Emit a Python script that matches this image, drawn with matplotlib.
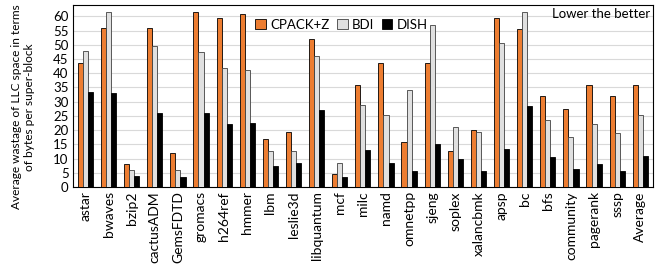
import numpy as np
import matplotlib.pyplot as plt

plt.rcParams['font.family'] = ['Lato', 'DejaVu Sans']

benchmarks = ["astar", "bwaves", "bzip2", "cactusADM", "GemsFDTD", "gromacs", "h264ref",
              "hmmer", "lbm", "leslie3d", "libquantum", "mcf", "milc", "namd", "omnetpp",
              "sjeng", "soplex", "xalancbmk", "apsp", "bc", "bfs", "community", "pagerank",
              "sssp", "Average"]
cpack_z = [43.5, 56, 8, 56, 12, 61.5, 59.5, 61, 17, 19.5, 52, 4.5, 36, 43.5, 16,
           43.5, 12.5, 20, 59.5, 55.5, 32, 27.5, 36, 32, 36]
bdi = [48, 61.5, 6, 49.5, 6, 47.5, 41.8, 41, 12.5, 12.5, 46, 8.5, 29, 25.5, 34,
       57, 21, 19.5, 50.5, 61.5, 23.5, 17.5, 22, 19, 25.5]
dish = [33.5, 33, 4, 26, 3.5, 26, 22, 22.5, 7.5, 8.5, 27, 3.5, 13, 8.5, 5.5,
        15, 10, 5.5, 13.5, 28.5, 10.5, 6.5, 8, 5.5, 11]

fig = plt.figure(figsize=(6.55, 2.66), dpi=100)
ax = fig.add_axes([0.111, 0.297, 0.886, 0.684])

x = np.arange(len(benchmarks))
w = 0.22
ax.bar(x - w, cpack_z, w, color="#ED7D31", edgecolor="black", linewidth=0.6, label="CPACK+Z", zorder=3)
ax.bar(x, bdi, w, color="#E0E0E0", edgecolor="#404040", linewidth=0.6, label="BDI", zorder=3)
ax.bar(x + w, dish, w, color="black", edgecolor="black", linewidth=0.6, label="DISH", zorder=3)

ax.set_xlim(-0.55, len(benchmarks) - 0.45)
ax.set_ylim(0, 64)
ax.set_yticks(np.arange(0, 61, 5))
ax.yaxis.grid(True, color="#d9d9d9", linewidth=0.8, zorder=0)
ax.set_xticks(x)
ax.set_xticklabels(benchmarks, rotation=90, fontsize=10)
ax.tick_params(axis="y", labelsize=9.5, length=0, pad=3)
ax.tick_params(axis="x", length=0, pad=3)
for s in ax.spines.values():
    s.set_linewidth(0.8)

# two-line label, shrunk a little so it stays inside the figure
ax.set_ylabel("Average wastage of LLC space in terms\nof bytes per super-block", fontsize=8.6)
ax.yaxis.set_label_coords(-0.065, 0.44)

ax.legend(loc="upper center", bbox_to_anchor=(0.463, 0.99), ncol=3, frameon=False, fontsize=9.5,
          handlelength=0.8, handleheight=0.8, handletextpad=0.3, columnspacing=0.6)
ax.text(0.995, 0.985, "Lower the better", transform=ax.transAxes, ha="right", va="top", fontsize=9.5)

fig.savefig("out.png", dpi=100)
